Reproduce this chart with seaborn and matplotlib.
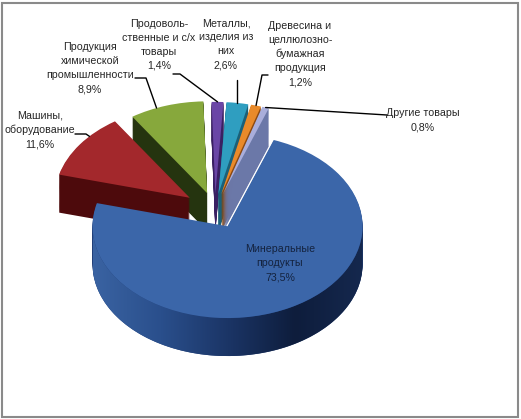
import numpy as np
import matplotlib
matplotlib.use("Agg")
import matplotlib.pyplot as plt
import seaborn as sns
from matplotlib.patches import Rectangle, Polygon
from matplotlib.colors import LinearSegmentedColormap

# data (order = counter-clockwise drawing order of the pie)
labels = ["Минеральные\nпродукты", "Другие товары",
          "Древесина и\nцеллюлозно-\nбумажная\nпродукция",
          "Металлы,\nизделия из\nних", "Продоволь-\nственные и с/х\nтовары",
          "Продукция\nхимической\nпромышленности", "Машины,\nоборудование"]
values = [73.5, 0.8, 1.2, 2.6, 1.4, 8.9, 11.6]

top_colors = ["#3b66a9", "#a9aedb", "#e98a2a", "#2f9ec0", "#6a46a6", "#87a83c", "#a3282c"]
side_colors = ["#213f78", "#6b78a8", "#8c4a12", "#1b6078", "#3a2062", "#25340f", "#4d0a0c"]

sns.set_theme(style="white")
plt.rcParams["font.family"] = ["Liberation Sans", "DejaVu Sans"]

SQ = 0.68          # vertical squash of the pie (fake tilt)


def px(x, y):
    # pixel position -> data coords
    return x, -y / SQ


fig = plt.figure(figsize=(5.21, 4.19), dpi=100)
ax = fig.add_axes([0, 0, 1, 1])

cx, cy = px(215, 210)
R = 135
depth = 38 / SQ
explode = [27, 24, 24, 24, 24, 26, 31]
start = 165.4

# side walls: stack of darker pies
n_layers = 40
for k in range(n_layers, 0, -1):
    off = depth * k / n_layers
    ws, _ = ax.pie(values, radius=R, center=(cx, cy - off), startangle=start,
                   explode=explode, colors=side_colors, wedgeprops=dict(linewidth=0))
    for p in ws:
        p.set_zorder(1)

wedges, _ = ax.pie(values, radius=R, center=(cx, cy), startangle=start,
                   explode=explode, colors=top_colors, wedgeprops=dict(linewidth=0))
for p in wedges:
    p.set_zorder(3)

# shaded front wall of the big slice
wm = wedges[0]
th = np.deg2rad(np.linspace(180, 360, 120))
xa = wm.center[0] + wm.r * np.cos(th)
ya = wm.center[1] + wm.r * np.sin(th)
wall = np.vstack([np.column_stack([xa, ya]),
                  np.column_stack([xa[::-1], ya[::-1] - depth])])
wall_patch = Polygon(wall, closed=True, facecolor="none", edgecolor="none")
ax.add_patch(wall_patch)
blues = LinearSegmentedColormap.from_list(
    "wall", ["#3a63a2", "#2a4f8c", "#1b3566", "#0e1d3c", "#15284e"])
grad = np.linspace(0, 1, 256).reshape(1, -1)
im = ax.imshow(grad, cmap=blues, aspect="auto", zorder=2,
               extent=(xa.min(), xa.max(), ya.min() - depth, ya.max()))
im.set_clip_path(wall_patch)


def arc_point(w, theta):
    t = np.deg2rad(theta)
    return w.center[0] + w.r * np.cos(t), w.center[1] + w.r * np.sin(t)


def mid(w):
    return 0.5 * (w.theta1 + w.theta2)


txt = dict(ha="center", va="center", fontsize=7.7, linespacing=1.5,
           color="#262626", zorder=5)
pct = [f"{v:.1f}%".replace(".", ",") for v in values]

# label block centers (pixels)
label_pos = [(280, 263), (423, 120), (300, 54), (226, 44), (159, 45), (90, 68), (40, 130)]
for i, (lx, ly) in enumerate(label_pos):
    kw = dict(txt)
    if i == 0:
        kw["color"] = "#14233f"
    ax.text(*px(lx, ly), labels[i] + "\n" + pct[i], **kw)

# leader lines: text end -> elbow -> wedge rim
leaders = [
    (6, [(75, 134), (86, 134)], 138),
    (5, [(135, 78), (146, 78)], 112),
    (4, [(173, 74), (180, 74)], None),
    (2, [(268, 75), (262, 75)], None),
    (1, [(387, 115)], None),
]
for i, pts, theta in leaders:
    w = wedges[i]
    end = arc_point(w, mid(w) if theta is None else theta)
    xs = [px(*p)[0] for p in pts] + [end[0]]
    ys = [px(*p)[1] for p in pts] + [end[1]]
    ax.plot(xs, ys, color="black", lw=1, zorder=4)

w = wedges[3]
end = arc_point(w, mid(w))
ax.plot([end[0], end[0]], [px(0, 80)[1], end[1]], color="black", lw=1, zorder=4)

ax.set_xlim(0, 521)
ax.set_ylim(-419 / SQ, 0)
ax.set_aspect("auto")
ax.axis("off")

fig.patches.append(Rectangle((2 / 521, 2 / 419), 1 - 5 / 521, 1 - 5 / 419,
                             transform=fig.transFigure, fill=False,
                             edgecolor="#8a8a8a", lw=1.5))

fig.savefig("out.png", dpi=100)
